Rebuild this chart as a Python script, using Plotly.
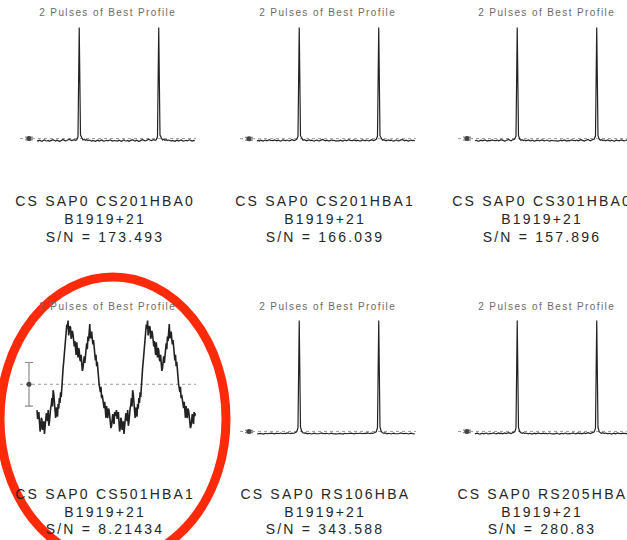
import plotly.graph_objects as go

# ---------------- data ----------------
panel_title = "2 Pulses of Best Profile"
stations = ["CS SAP0 CS201HBA0", "CS SAP0 CS201HBA1", "CS SAP0 CS301HBA0",
            "CS SAP0 CS501HBA1", "CS SAP0 RS106HBA", "CS SAP0 RS205HBA"]
pulsar = "B1919+21"
snr = ["173.493", "166.039", "157.896", "8.21434", "343.588", "280.83"]

# one period of each folded profile (normalised)
profile_cs201hba0 = [
    0.012, 0.008, 0.015, 0.010, 0.006, 0.013, 0.018, 0.011,
    0.009, 0.014, 0.007, 0.012, 0.016, 0.020, 0.013, 0.009,
    0.015, 0.011, 0.006, 0.010, 0.017, 0.022, 0.014, 0.010,
    0.013, 0.019, 0.025, 0.018, 0.012, 0.016, 0.021, 0.014,
    0.020, 0.045, 1.000, 0.060, 0.030, 0.018, 0.024, 0.015,
    0.020, 0.013, 0.017, 0.011, 0.008, 0.014, 0.010, 0.006,
    0.012, 0.016, 0.009, 0.013, 0.018, 0.012, 0.007, 0.011,
    0.015, 0.010, 0.014, 0.019, 0.012, 0.008, 0.013, 0.010]
profile_cs201hba1 = [
    0.010, 0.014, 0.009, 0.016, 0.012, 0.008, 0.013, 0.017,
    0.011, 0.015, 0.020, 0.013, 0.009, 0.012, 0.018, 0.014,
    0.010, 0.016, 0.012, 0.007, 0.013, 0.019, 0.015, 0.011,
    0.017, 0.013, 0.009, 0.014, 0.020, 0.016, 0.012, 0.018,
    0.024, 0.050, 1.000, 0.055, 0.028, 0.016, 0.021, 0.014,
    0.010, 0.015, 0.019, 0.012, 0.016, 0.011, 0.008, 0.013,
    0.017, 0.012, 0.009, 0.014, 0.018, 0.022, 0.015, 0.011,
    0.016, 0.012, 0.008, 0.013, 0.017, 0.012, 0.015, 0.010]
profile_cs301hba0 = [
    0.011, 0.015, 0.010, 0.007, 0.012, 0.016, 0.010, 0.013,
    0.018, 0.012, 0.008, 0.014, 0.010, 0.015, 0.019, 0.013,
    0.009, 0.012, 0.017, 0.011, 0.014, 0.020, 0.016, 0.012,
    0.008, 0.013, 0.018, 0.022, 0.015, 0.011, 0.017, 0.021,
    0.026, 0.052, 1.000, 0.058, 0.025, 0.015, 0.020, 0.013,
    0.017, 0.011, 0.014, 0.018, 0.012, 0.009, 0.015, 0.011,
    0.007, 0.012, 0.016, 0.013, 0.010, 0.015, 0.019, 0.014,
    0.010, 0.013, 0.017, 0.011, 0.008, 0.012, 0.015, 0.011]
profile_cs501hba1 = [
    0.217, 0.140, 0.165, 0.200, 0.113, 0.030, 0.061, 0.150,
    0.130, 0.045, 0.087, 0.120, 0.009, 0.070, 0.096, 0.190,
    0.174, 0.120, 0.217, 0.080, 0.113, 0.200, 0.235, 0.260,
    0.322, 0.250, 0.391, 0.360, 0.270, 0.180, 0.148, 0.240,
    0.217, 0.160, 0.270, 0.230, 0.322, 0.280, 0.374, 0.330,
    0.461, 0.500, 0.583, 0.640, 0.722, 0.780, 0.843, 0.920,
    0.965, 0.930, 1.000, 0.870, 0.896, 0.950, 0.939, 0.840,
    0.861, 0.910, 0.878, 0.800, 0.774, 0.820, 0.739, 0.700,
    0.809, 0.760, 0.678, 0.760, 0.739, 0.660, 0.643, 0.700,
    0.617, 0.560, 0.583, 0.650, 0.687, 0.630, 0.722, 0.790,
    0.800, 0.750, 0.861, 0.820, 0.930, 0.970, 0.843, 0.890,
    0.904, 0.840, 0.791, 0.830, 0.739, 0.690, 0.652, 0.700,
    0.600, 0.640, 0.548, 0.500, 0.443, 0.410, 0.374, 0.420,
    0.322, 0.350, 0.287, 0.240, 0.235, 0.290, 0.200, 0.150,
    0.252, 0.210, 0.148, 0.230, 0.217, 0.170, 0.130, 0.060,
    0.078, 0.140, 0.183, 0.120, 0.096, 0.200, 0.165, 0.190]
profile_rs106hba = [
    0.009, 0.012, 0.010, 0.014, 0.011, 0.008, 0.012, 0.015,
    0.011, 0.013, 0.009, 0.012, 0.016, 0.013, 0.010, 0.014,
    0.012, 0.009, 0.013, 0.017, 0.014, 0.011, 0.015, 0.012,
    0.016, 0.019, 0.015, 0.012, 0.017, 0.014, 0.018, 0.022,
    0.028, 0.065, 1.000, 0.070, 0.032, 0.020, 0.016, 0.019,
    0.014, 0.011, 0.015, 0.012, 0.009, 0.013, 0.016, 0.012,
    0.010, 0.014, 0.011, 0.015, 0.018, 0.013, 0.010, 0.012,
    0.015, 0.011, 0.009, 0.013, 0.016, 0.012, 0.014, 0.010]
profile_rs205hba = [
    0.010, 0.013, 0.016, 0.011, 0.008, 0.012, 0.015, 0.010,
    0.013, 0.017, 0.012, 0.009, 0.014, 0.011, 0.015, 0.019,
    0.013, 0.010, 0.014, 0.018, 0.012, 0.016, 0.011, 0.014,
    0.018, 0.013, 0.017, 0.021, 0.016, 0.012, 0.019, 0.023,
    0.027, 0.060, 1.000, 0.066, 0.030, 0.019, 0.015, 0.020,
    0.014, 0.017, 0.012, 0.010, 0.015, 0.012, 0.008, 0.013,
    0.016, 0.011, 0.014, 0.018, 0.013, 0.009, 0.012, 0.016,
    0.012, 0.015, 0.010, 0.013, 0.017, 0.011, 0.013, 0.009]

profiles = [profile_cs201hba0, profile_cs201hba1, profile_cs301hba0,
            profile_cs501hba1, profile_rs106hba, profile_rs205hba]
mean_level = [0.030, 0.029, 0.030, 0.443, 0.031, 0.031]
sigma_level = [0.012, 0.012, 0.013, 0.190, 0.010, 0.011]

# ---------------- layout geometry (pixels) ----------------
W, H = 627, 540
col_x0 = [37, 257, 475]       # pixel where phase 0 sits
col_title_x = [108, 328, 547]
col_cap_x = [105, 325, 542]
row_y0 = [142, 435]           # pixel where value 0 sits
row_title_y = [13, 306]
row_cap_y = [[201, 219, 237], [494, 512, 529]]
PX_PHASE = 79.5
PX_UNIT = 114.5

fig = go.Figure()
layout = dict(width=W, height=H, margin=dict(l=0, r=0, t=0, b=0),
              paper_bgcolor="white", plot_bgcolor="white", showlegend=False,
              annotations=[], shapes=[])

for k in range(6):
    r, c = divmod(k, 3)
    ax = "" if k == 0 else str(k + 1)
    x0 = col_x0[c]
    left_px = x0 - 22
    right_px = min(x0 + 163, W)
    y0 = row_y0[r]
    top_px, bot_px = y0 - 122, y0 + 12
    layout["xaxis" + ax] = dict(domain=[left_px / W, right_px / W],
                                range=[-22 / PX_PHASE, (right_px - x0) / PX_PHASE],
                                visible=False, fixedrange=True)
    layout["yaxis" + ax] = dict(domain=[1 - bot_px / H, 1 - top_px / H],
                                range=[-12 / PX_UNIT, 122 / PX_UNIT],
                                visible=False, fixedrange=True)
    xa, ya = "x" + ax, "y" + ax
    noisy = k == 3
    prof = profiles[k]
    nb = len(prof)
    phase = [i / nb for i in range(2 * nb)]
    # dashed mean line
    fig.add_trace(go.Scatter(x=[-17 / PX_PHASE, 2.0], y=[mean_level[k]] * 2,
                             mode="lines", xaxis=xa, yaxis=ya, hoverinfo="skip",
                             line=dict(color="#9a9a9a", width=1, dash="3px,3px")))
    # profile (two pulses)
    fig.add_trace(go.Scatter(x=phase, y=prof + prof, mode="lines",
                             xaxis=xa, yaxis=ya,
                             line=dict(color="#222222", width=1.6 if noisy else 1.2)))
    # error bar
    fig.add_trace(go.Scatter(x=[-8 / PX_PHASE], y=[mean_level[k]], mode="markers",
                             xaxis=xa, yaxis=ya,
                             marker=dict(color="#444444", size=5),
                             error_y=dict(type="data", array=[sigma_level[k]],
                                          color="#8a8a8a", thickness=1.2, width=4)))
    # title
    layout["annotations"].append(dict(
        text=panel_title, xref="paper", yref="paper",
        x=col_title_x[c] / W, y=1 - row_title_y[r] / H, showarrow=False,
        xanchor="center", yanchor="middle",
        font=dict(family="Liberation Sans, Arial", size=10, color="#6a6a6a")))
    for line, ypx in zip([stations[k], pulsar, "S/N = " + snr[k]], row_cap_y[r]):
        layout["annotations"].append(dict(
            text=line, xref="paper", yref="paper",
            x=col_cap_x[c] / W, y=1 - ypx / H, showarrow=False,
            xanchor="center", yanchor="middle",
            font=dict(family="Liberation Sans, Arial", size=14, color="#262626")))

# red highlight ellipse around the low S/N station
layout["shapes"].append(dict(type="circle", xref="paper", yref="paper",
                             x0=0 / W, x1=226 / W,
                             y0=1 - 561 / H, y1=1 - 277 / H,
                             line=dict(color="#ff2a0a", width=9),
                             fillcolor="rgba(0,0,0,0)", layer="above"))

fig.update_layout(**layout)

post = """
document.documentElement.style.margin = '0';
document.body.style.margin = '0';
document.body.style.overflow = 'hidden';
var gd = document.getElementById('{plot_id}');
gd.querySelectorAll('text.annotation-text').forEach(function(t){
  var fs = parseFloat(t.style.fontSize);
  t.style.letterSpacing = fs < 12 ? '1.4px' : '2.2px';
});
"""
fig.write_html("out.html", post_script=post, config={"displayModeBar": False})
